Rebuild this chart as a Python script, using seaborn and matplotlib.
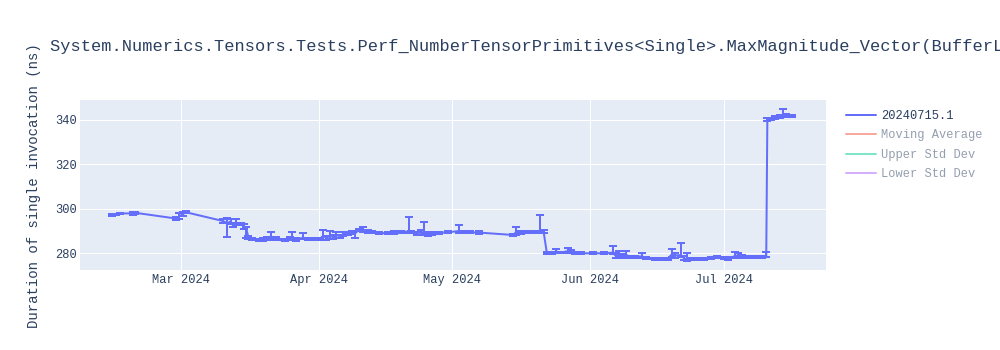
import pandas as pd
import numpy as np
import matplotlib
matplotlib.use("Agg")
import matplotlib.pyplot as plt
import matplotlib.dates as mdates
from matplotlib import font_manager as fm
from matplotlib.lines import Line2D
import seaborn as sns

# ---------------- data ----------------
dates = [
    "2024-02-14 12:00", "2024-02-15 12:00", "2024-02-16 12:00", "2024-02-19 06:00", "2024-02-19 18:00",
    "2024-02-29 00:00", "2024-02-29 18:00", "2024-03-01 12:00", "2024-03-02 06:00", "2024-03-10 12:00",
    "2024-03-11 12:00", "2024-03-12 06:00", "2024-03-12 18:00", "2024-03-13 12:00", "2024-03-14 12:00",
    "2024-03-15 06:00", "2024-03-15 18:00", "2024-03-16 06:00", "2024-03-17 00:00", "2024-03-18 12:00",
    "2024-03-19 12:00", "2024-03-20 12:00", "2024-03-21 06:00", "2024-03-21 18:00", "2024-03-22 12:00",
    "2024-03-23 12:00", "2024-03-24 12:00", "2024-03-25 12:00", "2024-03-26 00:00", "2024-03-27 00:00",
    "2024-03-28 12:00", "2024-03-29 12:00", "2024-03-30 18:00", "2024-04-01 06:00", "2024-04-02 00:00",
    "2024-04-02 18:00", "2024-04-03 12:00", "2024-04-04 06:00", "2024-04-05 00:00", "2024-04-05 18:00",
    "2024-04-06 12:00", "2024-04-07 12:00", "2024-04-08 12:00", "2024-04-09 06:00", "2024-04-10 00:00",
    "2024-04-11 00:00", "2024-04-12 00:00", "2024-04-13 00:00", "2024-04-14 12:00", "2024-04-16 12:00",
    "2024-04-18 00:00", "2024-04-19 12:00", "2024-04-21 06:00", "2024-04-21 18:00", "2024-04-23 00:00",
    "2024-04-24 00:00", "2024-04-24 18:00", "2024-04-25 12:00", "2024-04-26 12:00", "2024-04-28 00:00",
    "2024-04-30 00:00", "2024-05-02 12:00", "2024-05-03 06:00", "2024-05-05 00:00", "2024-05-07 00:00",
    "2024-05-14 18:00", "2024-05-15 06:00", "2024-05-16 12:00", "2024-05-18 00:00", "2024-05-19 12:00",
    "2024-05-20 18:00", "2024-05-21 12:00", "2024-05-22 06:00", "2024-05-23 12:00", "2024-05-24 06:00",
    "2024-05-25 12:00", "2024-05-27 00:00", "2024-05-27 18:00", "2024-05-28 12:00", "2024-05-30 00:00",
    "2024-06-01 12:00", "2024-06-04 00:00", "2024-06-06 00:00", "2024-06-06 18:00", "2024-06-07 12:00",
    "2024-06-08 06:00", "2024-06-09 00:00", "2024-06-09 18:00", "2024-06-11 00:00", "2024-06-12 12:00",
    "2024-06-13 12:00", "2024-06-14 12:00", "2024-06-15 12:00", "2024-06-17 00:00", "2024-06-18 12:00",
    "2024-06-19 06:00", "2024-06-20 00:00", "2024-06-21 06:00", "2024-06-22 00:00", "2024-06-22 18:00",
    "2024-06-23 12:00", "2024-06-25 00:00", "2024-06-26 12:00", "2024-06-28 00:00", "2024-06-29 12:00",
    "2024-07-01 00:00", "2024-07-02 00:00", "2024-07-03 12:00", "2024-07-04 06:00", "2024-07-05 00:00",
    "2024-07-06 12:00", "2024-07-08 00:00", "2024-07-09 12:00", "2024-07-10 12:00", "2024-07-10 18:00",
    "2024-07-11 12:00", "2024-07-12 12:00", "2024-07-13 12:00", "2024-07-14 06:00", "2024-07-15 00:00",
    "2024-07-16 06:00",
]
durations = [
    297.2, 297.4, 297.9, 297.9, 298.2,
    295.6, 296.6, 297.6, 298.4, 294.5,
    293.5, 294.3, 292.6, 293.8, 293.2,
    292.0, 291.0, 287.0, 286.3, 285.9,
    286.2, 286.6, 287.6, 286.6, 286.8,
    286.2, 286.0, 286.5, 287.4, 286.2,
    287.0, 286.4, 286.3, 286.5, 287.8,
    286.8, 288.0, 287.2, 288.2, 287.6,
    288.6, 288.9, 289.4, 289.0, 290.5,
    290.2, 289.8, 289.5, 289.0, 289.1,
    289.3, 289.6, 289.8, 289.6, 289.0,
    289.4, 289.5, 288.6, 289.0, 289.2,
    289.4, 290.0, 289.6, 289.4, 289.3,
    288.2, 289.4, 289.2, 289.6, 289.5,
    289.7, 289.8, 280.0, 280.3, 280.8,
    280.4, 281.0, 280.7, 280.2, 280.0,
    280.0, 280.0, 280.3, 278.8, 279.6,
    278.6, 279.5, 278.3, 278.5, 278.6,
    278.0, 277.7, 277.6, 277.6, 277.6,
    279.5, 279.0, 279.2, 277.8, 277.2,
    277.5, 277.4, 277.6, 277.8, 278.3,
    278.0, 277.6, 278.8, 279.0, 278.4,
    278.3, 278.3, 278.5, 278.8, 340.0,
    340.3, 341.0, 341.3, 342.3, 341.8,
    341.5,
]
err_upper = [
    0.5, 0.4, 0.3, 0.6, 0.4,
    0.8, 1.5, 0.8, 0.5, 0.8,
    2.2, 1.0, 1.2, 1.6, 0.6,
    1.0, 0.8, 0.6, 0.4, 0.4,
    0.5, 0.6, 2.0, 0.8, 0.6,
    0.4, 0.4, 0.6, 2.0, 0.5,
    2.0, 0.5, 0.4, 0.5, 2.7,
    0.8, 2.2, 0.8, 1.2, 0.6,
    0.8, 0.6, 0.6, 0.8, 0.6,
    1.8, 0.6, 0.6, 0.5, 0.5,
    0.5, 0.6, 6.6, 0.6, 0.6,
    1.0, 4.5, 0.8, 0.6, 0.5,
    0.5, 2.6, 0.5, 0.5, 0.5,
    0.6, 2.6, 0.6, 0.5, 0.6,
    7.5, 0.6, 0.5, 0.5, 1.2,
    0.4, 1.5, 1.0, 0.4, 0.4,
    0.4, 0.4, 2.8, 1.4, 1.6,
    1.2, 1.4, 0.6, 0.5, 1.5,
    0.5, 0.4, 0.4, 0.4, 0.5,
    2.5, 1.0, 5.3, 1.0, 2.8,
    0.5, 0.4, 0.4, 0.4, 0.6,
    0.4, 0.6, 2.0, 1.2, 1.0,
    0.5, 0.4, 0.5, 1.6, 0.6,
    0.6, 0.6, 0.6, 2.5, 0.6,
    0.5,
]
err_lower = [
    0.5, 0.4, 0.3, 0.6, 0.4,
    0.8, 1.0, 0.8, 0.5, 0.8,
    6.0, 1.0, 1.0, 1.0, 0.6,
    1.0, 4.0, 0.6, 0.4, 0.4,
    0.5, 0.6, 1.0, 0.8, 0.6,
    0.4, 0.4, 0.6, 1.4, 0.5,
    0.8, 0.5, 0.4, 0.5, 1.8,
    0.8, 1.6, 0.8, 1.2, 0.6,
    0.8, 0.6, 0.6, 2.2, 0.6,
    0.8, 0.6, 0.6, 0.5, 0.5,
    0.5, 0.6, 0.6, 0.6, 0.6,
    1.0, 1.0, 0.8, 0.6, 0.5,
    0.5, 0.8, 0.5, 0.5, 0.5,
    0.6, 1.0, 0.6, 0.5, 0.6,
    0.5, 0.6, 0.5, 0.5, 0.6,
    0.4, 0.8, 0.6, 0.4, 0.4,
    0.4, 0.4, 0.6, 1.0, 1.2,
    0.8, 1.0, 0.6, 0.5, 0.5,
    0.5, 0.4, 0.4, 0.4, 0.5,
    1.2, 1.0, 0.8, 0.8, 0.6,
    0.5, 0.4, 0.4, 0.4, 0.6,
    0.4, 0.6, 1.0, 0.8, 0.6,
    0.5, 0.4, 0.5, 0.6, 0.6,
    0.6, 0.6, 0.6, 0.8, 0.6,
    0.5,
]
series_names = ["20240715.1", "Moving Average", "Upper Std Dev", "Lower Std Dev"]
series_colors = ["#636efa", "#EF553B", "#00cc96", "#ab63fa"]
title_text = "System.Numerics.Tensors.Tests.Perf_NumberTensorPrimitives<Single>.MaxMagnitude_Vector(BufferLength: 128)"
y_label = "Duration of single invocation (ns)"
y_ticks = [280, 300, 320, 340]

# ---------------- style ----------------
sns.set_theme(style="darkgrid")

# find a Courier-like monospace font
available = {f.name: f.fname for f in fm.fontManager.ttflist}
mono_font = None
for cand in ["Liberation Mono", "Courier New", "Cousine", "Nimbus Mono PS", "FreeMono", "Courier"]:
    if cand in available:
        mono_font = cand
        break
if mono_font is None:
    # try to register Liberation Mono files directly
    import glob
    files = glob.glob("/usr/share/fonts/**/LiberationMono-Regular*.ttf", recursive=True)
    if files:
        fm.fontManager.addfont(files[0])
        mono_font = fm.FontProperties(fname=files[0]).get_name()
FAMILY = [mono_font, "DejaVu Sans Mono"] if mono_font else ["DejaVu Sans Mono"]
plt.rcParams["font.family"] = FAMILY
TXT = "#2a3f5f"
PX = 0.72  # points per pixel at dpi 100

df = pd.DataFrame({"date": pd.to_datetime(dates), "duration": durations,
                   "up": err_upper, "dn": err_lower})

fig = plt.figure(figsize=(10, 3.5), dpi=100)
fig.patch.set_facecolor("white")
ax = fig.add_axes([0.08, 1 - 270 / 350, 0.746, 170 / 350])
ax.set_facecolor("#E5ECF6")

ax.errorbar(df["date"], df["duration"], yerr=[df["dn"], df["up"]], fmt="none",
            ecolor=series_colors[0], elinewidth=2 * PX, capsize=4 * PX,
            capthick=2 * PX, zorder=3)
sns.lineplot(data=df, x="date", y="duration", ax=ax, color=series_colors[0],
             linewidth=2 * PX, sort=False, estimator=None, zorder=4, legend=False)

ax.set_xlim(pd.Timestamp("2024-02-07 10:00"), pd.Timestamp("2024-07-23 22:00"))
ax.set_ylim(272.5, 348.8)
ax.set_yticks(y_ticks)
ax.xaxis.set_major_locator(mdates.MonthLocator(bymonth=[3, 4, 5, 6, 7]))
ax.xaxis.set_major_formatter(mdates.DateFormatter("%b %Y"))
ax.grid(True, color="white", linewidth=1 * PX)
ax.set_axisbelow(True)
for s in ax.spines.values():
    s.set_visible(False)
ax.tick_params(axis="both", length=0, labelsize=12 * PX, labelcolor=TXT)
ax.tick_params(axis="y", pad=2)
ax.tick_params(axis="x", pad=3)
ax.set_xlabel("")
ax.set_ylabel("")

fig.text(34 / 1000, 1 - 186 / 350, y_label, rotation=90, ha="center", va="center",
         fontsize=14 * PX, color=TXT)
fig.text(50 / 1000, 1 - 46 / 350, title_text, ha="left", va="center",
         fontsize=17 * PX, color=TXT)

handles = []
for i, (n, c) in enumerate(zip(series_names, series_colors)):
    handles.append(Line2D([0], [0], color=c, linewidth=2 * PX, alpha=1.0 if i == 0 else 0.5))
leg = fig.legend(handles, series_names, loc="upper left", bbox_to_anchor=(0.846, 1 - 110 / 350),
                 frameon=False, fontsize=12 * PX, handlelength=2.5, handletextpad=0.45,
                 labelspacing=0.62, borderaxespad=0, borderpad=0)
for i, t in enumerate(leg.get_texts()):
    t.set_color(TXT)
    if i > 0:
        t.set_alpha(0.5)

fig.savefig("out.png", dpi=100, facecolor="white")
